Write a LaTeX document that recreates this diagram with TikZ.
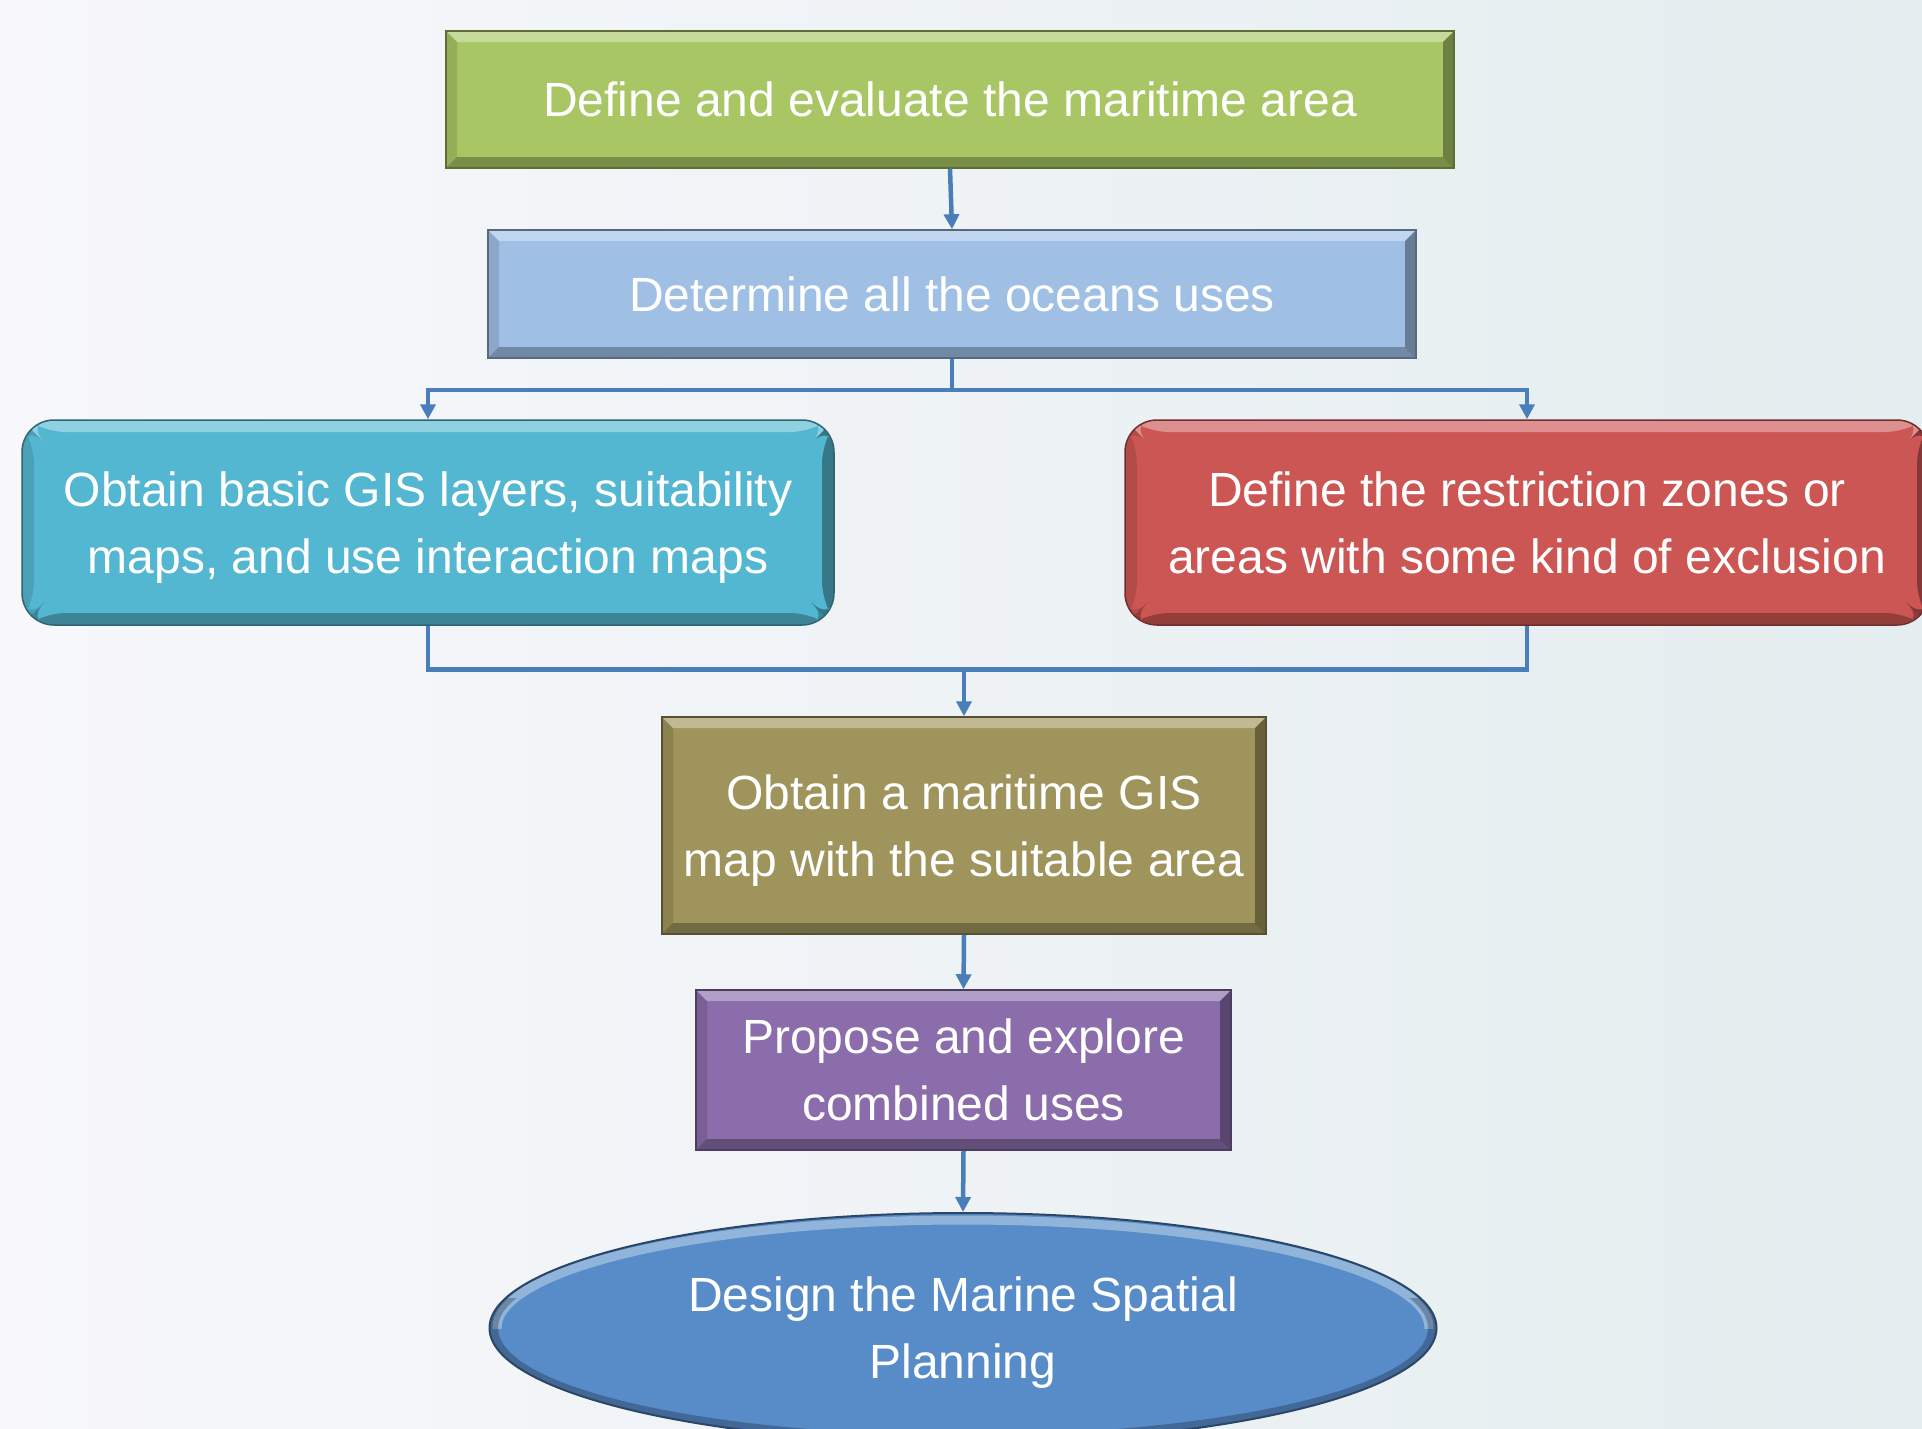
\documentclass[tikz,border=0pt]{standalone}
\usepackage{fontspec}
\setmainfont{Liberation Sans}
\usetikzlibrary{shapes.geometric,arrows.meta}
\definecolor{bgL}{HTML}{F8F8FC}
\definecolor{bgR}{HTML}{E4EDEF}
\definecolor{cgreen}{HTML}{A8C764}
\definecolor{clblue}{HTML}{9FBFE5}
\definecolor{ccyan}{HTML}{54B7D1}
\definecolor{cred}{HTML}{CC5653}
\definecolor{colive}{HTML}{9F945B}
\definecolor{cpurple}{HTML}{8A6DAA}
\definecolor{cell}{HTML}{578CC9}
\definecolor{conn}{HTML}{4A7EBB}
\newcommand{\nodesc}[1]{\raisebox{0pt}[\height][0pt]{#1}}
\tikzset{
  txt/.style={text=white, align=center, font=\fontsize{48}{67}\selectfont, inner sep=0pt},
  bevel/.style={path picture={
     \fill[white,opacity=.35] (path picture bounding box.north west) -- (path picture bounding box.north east)
        -- ([xshift=-#1,yshift=-#1]path picture bounding box.north east) -- ([xshift=#1,yshift=-#1]path picture bounding box.north west) -- cycle;
     \fill[black,opacity=.28] (path picture bounding box.south west) -- (path picture bounding box.south east)
        -- ([xshift=-#1,yshift=#1]path picture bounding box.south east) -- ([xshift=#1,yshift=#1]path picture bounding box.south west) -- cycle;
     \fill[black,opacity=.35] (path picture bounding box.north east) -- (path picture bounding box.south east)
        -- ([xshift=-#1,yshift=#1]path picture bounding box.south east) -- ([xshift=-#1,yshift=-#1]path picture bounding box.north east) -- cycle;
     \fill[black,opacity=.12] (path picture bounding box.north west) -- (path picture bounding box.south west)
        -- ([xshift=#1,yshift=#1]path picture bounding box.south west) -- ([xshift=#1,yshift=-#1]path picture bounding box.north west) -- cycle;
  }},
  rbox/.style={txt, rectangle, fill=#1, draw=#1!55!black, line width=1.5pt, bevel=11pt},
  rrbox/.style={txt, rectangle, rounded corners=32pt, fill=#1, draw=#1!55!black, line width=1.5pt, bevel=12pt},
  cline/.style={draw=conn, line width=4.5pt},
  arr/.style={cline, -{Triangle[width=15pt,length=15pt]}},
}
\begin{document}
\begin{tikzpicture}[x=1pt,y=-1pt]
\useasboundingbox (0,0) rectangle (1922,1428);
\fill[left color=bgL, right color=bgR] (0,0) rectangle (1922,1428);

\node[rbox=cgreen, minimum width=1008pt, minimum height=137pt] (b1) at (950,99.5) {Define and evaluate the maritime area};
\node[rbox=clblue, minimum width=928pt, minimum height=128pt] (b2) at (952,294) {Determine all the oceans uses};
\node[rrbox=ccyan, minimum width=812pt, minimum height=205pt] (b3) at (428,522.5) {Obtain basic GIS layers, suitability\\\nodesc{maps, and use interaction maps}};
\node[rrbox=cred, minimum width=804pt, minimum height=205pt] (b4) at (1527,522.5) {Define the restriction zones or\\areas with some kind of exclusion};
\node[rbox=colive, minimum width=604pt, minimum height=217pt] (b5) at (964,825.5) {Obtain a maritime GIS\\\nodesc{map with the suitable area}};
\node[rbox=cpurple, minimum width=535pt, minimum height=160pt] (b6) at (963.5,1070) {Propose and explore\\combined uses};
\node[txt, ellipse, minimum width=947pt, minimum height=230pt, fill=cell, draw=cell!50!black, line width=2pt,
  path picture={
    \begin{scope}
    \clip ([xshift=-500pt]path picture bounding box.center) rectangle ([xshift=500pt,yshift=130pt]path picture bounding box.center);
    \draw[white,opacity=.35,line width=9pt] (path picture bounding box.center) ellipse [x radius=466, y radius=108];
    \end{scope}
    \begin{scope}
    \clip ([xshift=-500pt,yshift=30pt]path picture bounding box.center) rectangle ([xshift=500pt,yshift=-130pt]path picture bounding box.center);
    \fill[black,opacity=.25,even odd rule] (path picture bounding box.center) ellipse [x radius=480, y radius=122]
       (path picture bounding box.center) ellipse [x radius=465, y radius=107];
    \end{scope}
  }] (ell) at (963,1328) {Design the Marine Spatial\\\nodesc{Planning}};

\draw[arr] (b1.south) -- (b2.north);
\path (b2.south) ++(0,31) coordinate (j1);
\draw[cline] (b2.south) -- (j1);
\draw[arr] (j1) -| (b3.north);
\draw[arr] (j1) -| (b4.north);
\path (b5.north) ++(0,-47) coordinate (j2);
\draw[cline] (b3.south) |- (j2) -| (b4.south);
\draw[arr] (j2) -- (b5.north);
\draw[arr] (b5.south) -- (b6.north);
\draw[arr] (b6.south) -- (ell.north);
\end{tikzpicture}
\end{document}
